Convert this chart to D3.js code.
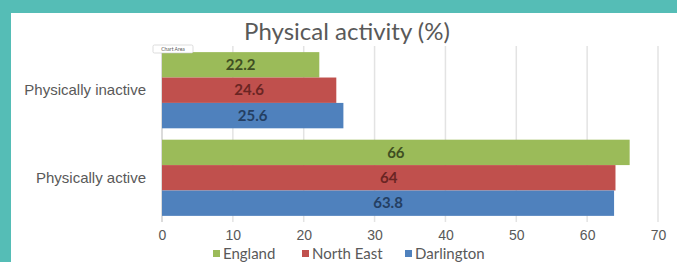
<!DOCTYPE html>
<html>
<head>
<meta charset="utf-8">
<script src="https://cdn.jsdelivr.net/npm/d3@7"></script>
<style>
  html, body { margin: 0; padding: 0; overflow: hidden; background: #55bdb6; }
  svg { display: block; font-family: Lato, "Open Sans", sans-serif; }
</style>
</head>
<body>
<div id="chart"></div>
<script>
// data
var categories = ["Physically inactive", "Physically active"];
var seriesNames = ["England", "North East", "Darlington"];
var england = [22.2, 66];
var northEast = [24.6, 64];
var darlington = [25.6, 63.8];
var xTicks = [0, 10, 20, 30, 40, 50, 60, 70];

var colors = ["#9bbb59", "#c0504d", "#4f81bd"];
var labelColors = ["#3f4f22", "#6a2523", "#243f63"];

var W = 677, H = 262;
var margin = {top: 46, right: 19, bottom: 40, left: 162};
var width = W - margin.left - margin.right,
    height = H - margin.top - margin.bottom;

var svg = d3.select("#chart")
    .append("svg")
    .attr("width", W)
    .attr("height", H);

// teal frame + white panel
svg.append("rect")
    .attr("width", W).attr("height", H)
    .attr("fill", "#55bdb6");
svg.append("rect")
    .attr("x", 11).attr("y", 13)
    .attr("width", W - 11).attr("height", H - 13)
    .attr("fill", "#ffffff");

var g = svg.append("g")
    .attr("transform", "translate(" + margin.left + "," + margin.top + ")");

var x = d3.scaleLinear()
    .domain([0, 70])
    .range([0, width]);

var y = d3.scaleBand()
    .domain(categories)
    .range([0, height])
    .paddingInner(0.13)
    .paddingOuter(0.07);

var ySeries = d3.scaleBand()
    .domain(seriesNames)
    .range([0, y.bandwidth()]);

// gridlines
g.append("g")
    .selectAll("line")
    .data(xTicks)
    .enter()
    .append("line")
    .attr("x1", function (d) { return x(d); })
    .attr("x2", function (d) { return x(d); })
    .attr("y1", 0)
    .attr("y2", height)
    .attr("stroke", function (d) { return d === 0 ? "#cfcfcf" : "#e3e3e3"; })
    .attr("stroke-width", 1.5);

// x axis labels
var xAxis = g.append("g")
    .attr("transform", "translate(0," + height + ")")
    .call(d3.axisBottom(x).tickValues(xTicks).tickSize(0).tickPadding(8));
xAxis.select(".domain").remove();
xAxis.selectAll("text")
    .attr("fill", "#595959")
    .style("font-size", "14px");

// y axis labels
var yAxis = g.append("g")
    .call(d3.axisLeft(y).tickSize(0).tickPadding(16));
yAxis.select(".domain").remove();
yAxis.selectAll("text")
    .attr("fill", "#595959")
    .style("font-size", "15px");

var values = [england, northEast, darlington];
var rows = [];
categories.forEach(function (c, i) {
    seriesNames.forEach(function (s, j) {
        rows.push({cat: c, series: s, idx: j, value: values[j][i]});
    });
});

var bars = g.append("g")
    .selectAll("g")
    .data(rows)
    .enter()
    .append("g")
    .attr("transform", function (d) {
        return "translate(0," + (y(d.cat) + ySeries(d.series)) + ")";
    });

bars.append("rect")
    .attr("x", 0)
    .attr("width", function (d) { return x(d.value); })
    .attr("height", ySeries.bandwidth())
    .attr("fill", function (d) { return colors[d.idx]; });

bars.append("text")
    .attr("x", function (d) { return x(d.value) / 2; })
    .attr("y", ySeries.bandwidth() / 2)
    .attr("dy", "0.35em")
    .attr("text-anchor", "middle")
    .attr("fill", function (d) { return labelColors[d.idx]; })
    .style("font-size", "15px")
    .style("font-weight", "bold")
    .text(function (d) { return d.value; });

// title
svg.append("text")
    .attr("x", 347)
    .attr("y", 40)
    .attr("text-anchor", "middle")
    .attr("fill", "#595959")
    .style("font-size", "24px")
    .text("Physical activity (%)");

// "Chart Area" tooltip
var tip = svg.append("g").attr("transform", "translate(153,45)");
tip.append("rect")
    .attr("width", 40).attr("height", 8)
    .attr("rx", 1.5)
    .attr("fill", "#ffffff")
    .attr("stroke", "#c8c8c8")
    .attr("stroke-width", 0.6);
tip.append("text")
    .attr("x", 20).attr("y", 6)
    .attr("text-anchor", "middle")
    .attr("fill", "#555555")
    .style("font-size", "5px")
    .text("Chart Area");

// legend
var legendX = [213, 302, 405];
var legend = svg.append("g")
    .selectAll("g")
    .data(seriesNames)
    .enter()
    .append("g")
    .attr("transform", function (d, i) { return "translate(" + legendX[i] + ",250)"; });

legend.append("rect")
    .attr("width", 7).attr("height", 7)
    .attr("fill", function (d, i) { return colors[i]; });

legend.append("text")
    .attr("x", 10)
    .attr("y", 4)
    .attr("dy", "0.35em")
    .attr("fill", "#595959")
    .style("font-size", "15px")
    .text(function (d) { return d; });
</script>
</body>
</html>
